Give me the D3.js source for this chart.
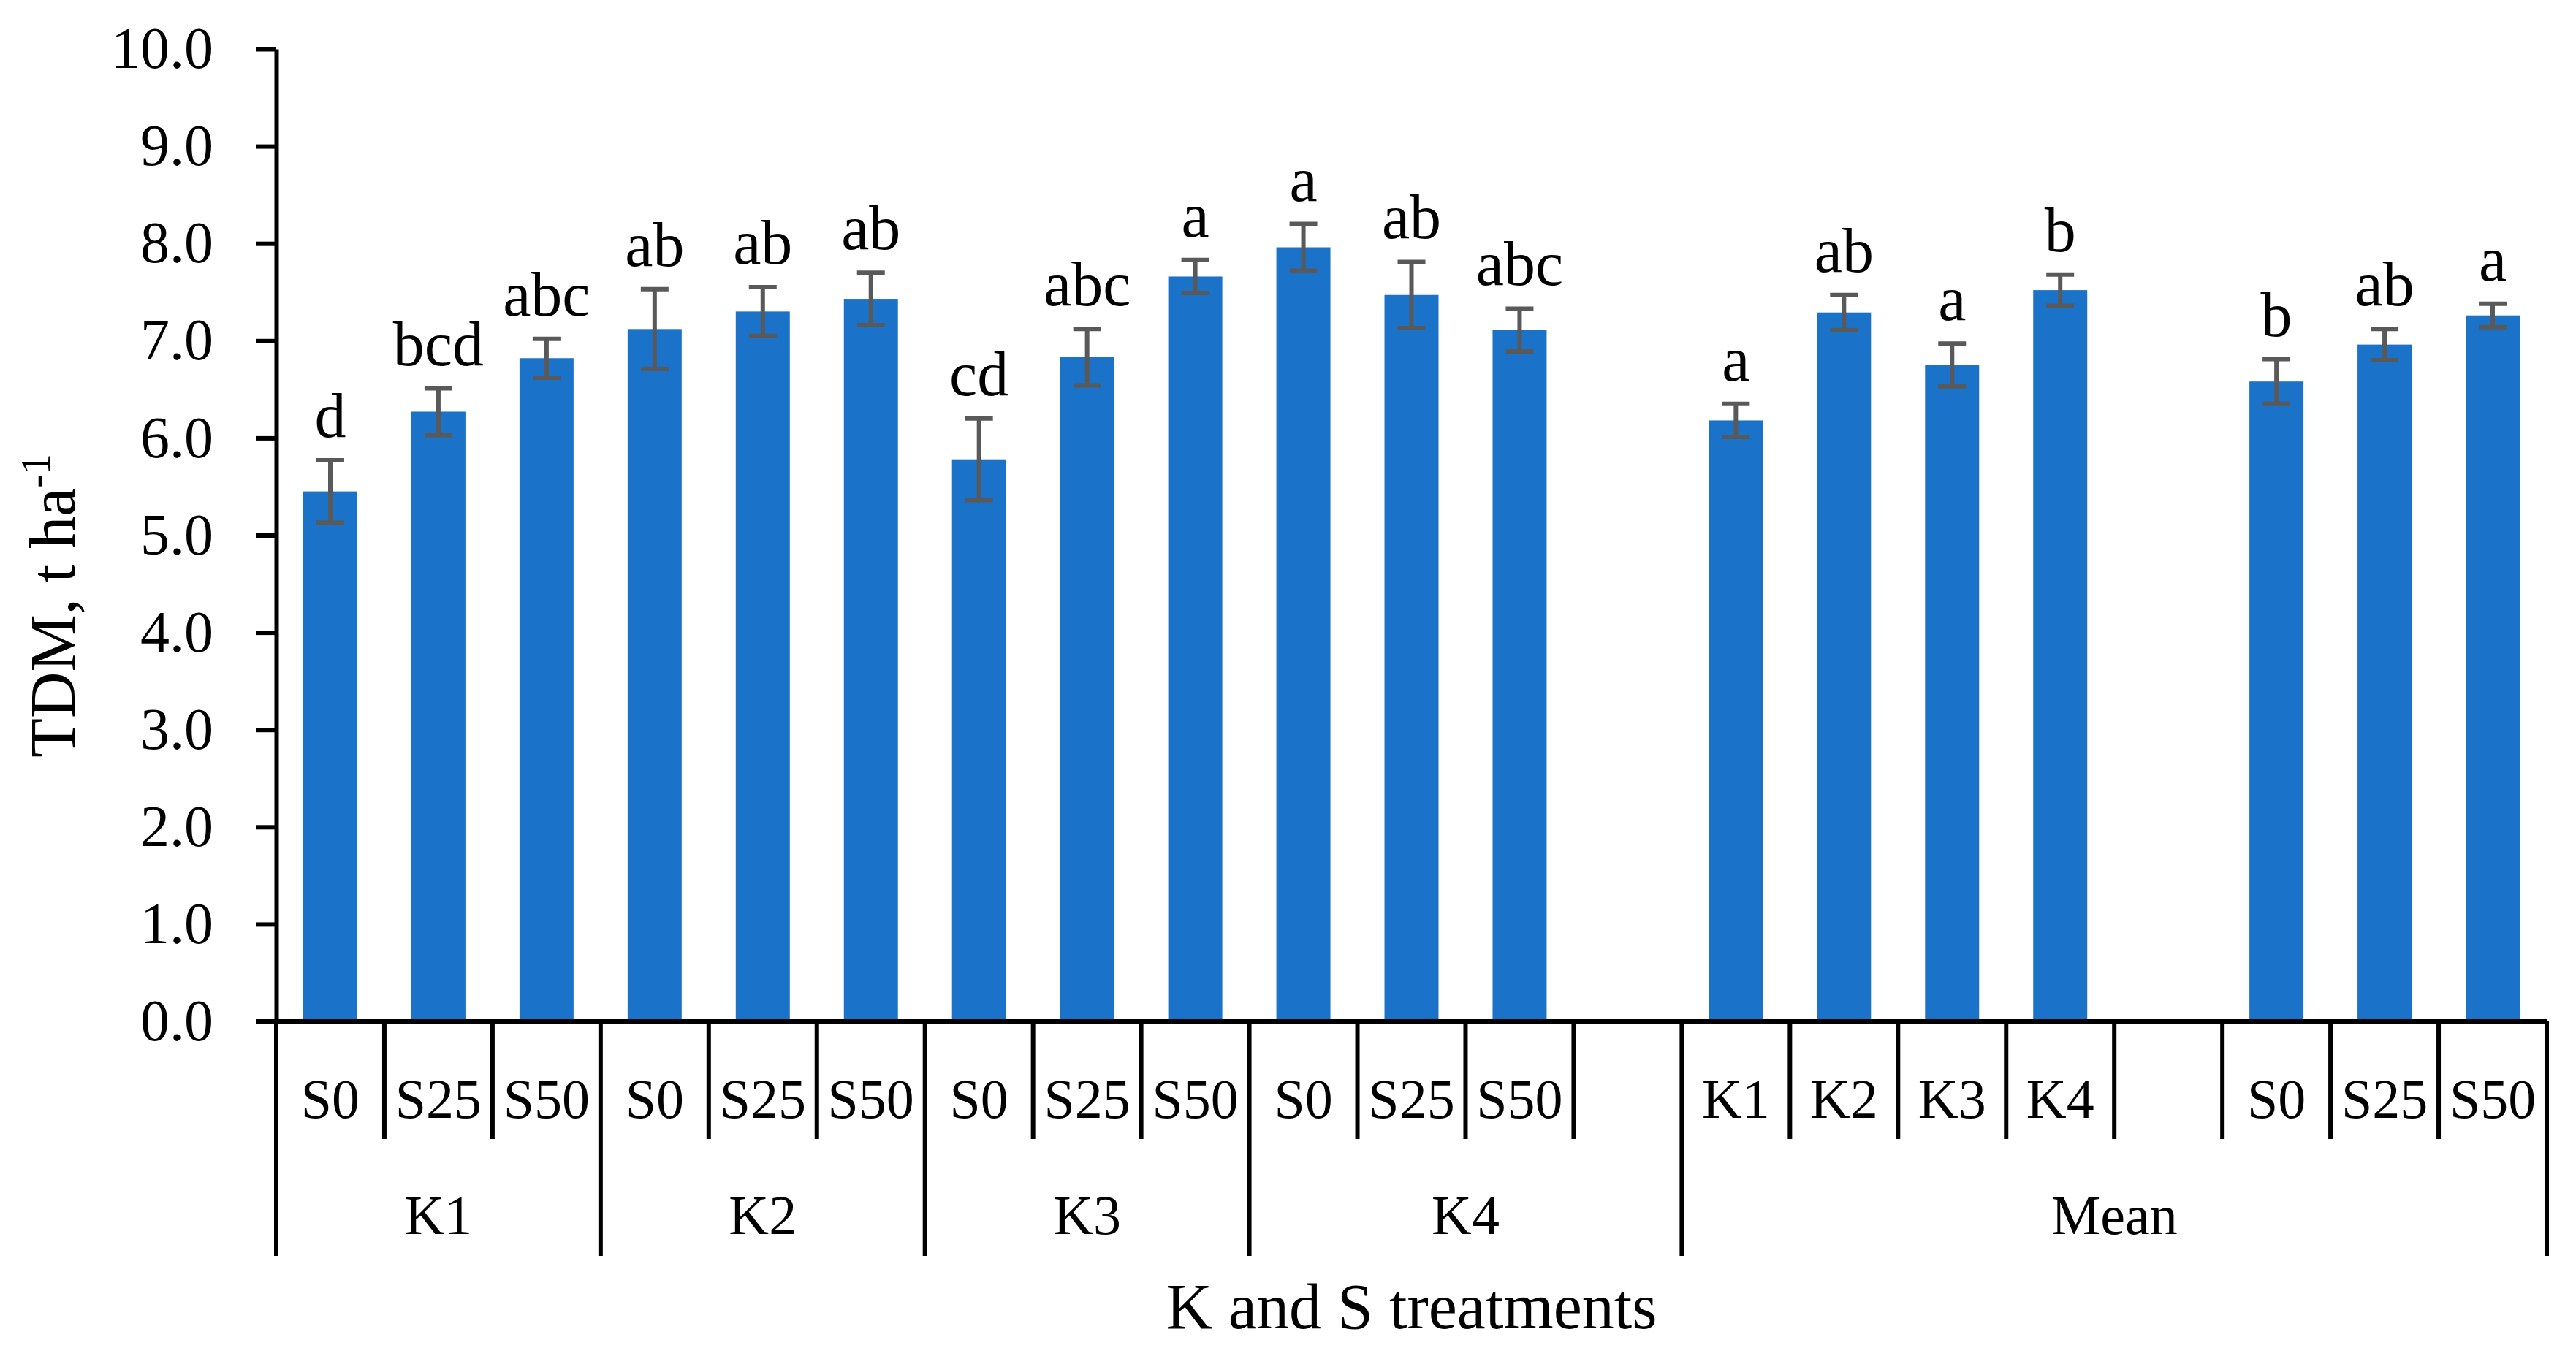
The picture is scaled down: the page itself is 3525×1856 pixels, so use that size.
<!DOCTYPE html>
<html>
<head>
<meta charset="utf-8">
<script src="https://cdn.jsdelivr.net/npm/d3@7"></script>
<style>
  html, body { margin: 0; padding: 0; background: #ffffff; }
  svg { display: block; }
  text { font-family: "Liberation Serif", "Times New Roman", serif; fill: #000; }
</style>
</head>
<body>
<script>
// ---------------- data ----------------
const kGroups = ["K1", "K2", "K3", "K4"];
const sLevels = ["S0", "S25", "S50"];
const meanKLabels = ["K1", "K2", "K3", "K4"];
const meanSLabels = ["S0", "S25", "S50"];

// TDM (t/ha) for K x S combinations, in order K1(S0,S25,S50), K2(...), K3(...), K4(...)
const tdmKS = [5.45, 6.27, 6.82, 7.12, 7.30, 7.43, 5.78, 6.83, 7.66, 7.96, 7.47, 7.11];
const errKS = [0.32, 0.24, 0.20, 0.41, 0.25, 0.27, 0.42, 0.29, 0.17, 0.24, 0.34, 0.22];
const letKS = ["d", "bcd", "abc", "ab", "ab", "ab", "cd", "abc", "a", "a", "ab", "abc"];

// Means of K levels
const tdmMeanK = [6.18, 7.29, 6.75, 7.52];
const errMeanK = [0.17, 0.18, 0.22, 0.16];
const letMeanK = ["a", "ab", "a", "b"];

// Means of S levels
const tdmMeanS = [6.58, 6.96, 7.26];
const errMeanS = [0.23, 0.16, 0.12];
const letMeanS = ["b", "ab", "a"];

const yTicks = [0, 1, 2, 3, 4, 5, 6, 7, 8, 9, 10];
const yTitle = "TDM, t ha";
const yTitleSup = "-1";
const xTitle = "K and S treatments";
const meanGroupLabel = "Mean";

// ---------------- build category slots ----------------
const slots = [];
kGroups.forEach((g, gi) => {
  sLevels.forEach((s, si) => {
    const i = gi * 3 + si;
    slots.push({ group: g, label: s, value: tdmKS[i], err: errKS[i], letter: letKS[i] });
  });
  if (gi === kGroups.length - 1) slots.push({ group: g, label: "", value: null });
});
meanKLabels.forEach((k, i) => slots.push({ group: meanGroupLabel, label: k, value: tdmMeanK[i], err: errMeanK[i], letter: letMeanK[i] }));
slots.push({ group: meanGroupLabel, label: "", value: null });
meanSLabels.forEach((s, i) => slots.push({ group: meanGroupLabel, label: s, value: tdmMeanS[i], err: errMeanS[i], letter: letMeanS[i] }));
slots.forEach((d, i) => d.key = "slot" + i);

// ---------------- layout ----------------
const W = 3525, H = 1856;
const mLeft = 378, mRight = 3485, mTop = 67, mBottom = 1398;
const shortTick = 161, longTick = 321;
const lineW = 6;

const svg = d3.select("body").append("svg").attr("width", W).attr("height", H);

const x = d3.scaleBand().domain(slots.map(d => d.key)).range([mLeft, mRight]).paddingInner(0).paddingOuter(0);
const y = d3.scaleLinear().domain([0, 10]).range([mBottom, mTop]);
const bw = x.bandwidth() * 0.5;

const blue = "#1a73c8";
const errColor = "#595959";

// bars
const barData = slots.filter(d => d.value !== null);
svg.append("g").selectAll("rect").data(barData).join("rect")
  .attr("x", d => x(d.key) + (x.bandwidth() - bw) / 2)
  .attr("width", bw)
  .attr("y", d => y(d.value))
  .attr("height", d => y(0) - y(d.value))
  .attr("fill", blue);

// error bars
const eg = svg.append("g").attr("stroke", errColor).attr("stroke-width", 6).attr("fill", "none");
const capHalf = 19;
barData.forEach(d => {
  const cx = x(d.key) + x.bandwidth() / 2;
  const y1 = y(d.value + d.err), y2 = y(d.value - d.err);
  eg.append("line").attr("x1", cx).attr("x2", cx).attr("y1", y1).attr("y2", y2);
  eg.append("line").attr("x1", cx - capHalf).attr("x2", cx + capHalf).attr("y1", y1).attr("y2", y1);
  eg.append("line").attr("x1", cx - capHalf).attr("x2", cx + capHalf).attr("y1", y2).attr("y2", y2);
});

// letters
svg.append("g").selectAll("text").data(barData).join("text")
  .attr("x", d => x(d.key) + x.bandwidth() / 2)
  .attr("y", d => y(d.value + d.err) - 32)
  .attr("text-anchor", "middle")
  .attr("font-size", 86)
  .text(d => d.letter);

// y axis
const yAxis = d3.axisLeft(y).tickValues(yTicks).tickFormat(d3.format(".1f")).tickSize(28).tickSizeOuter(0).tickPadding(58);
const gy = svg.append("g").attr("transform", `translate(${mLeft},0)`).call(yAxis);
gy.select(".domain").attr("stroke", "#000").attr("stroke-width", lineW);
gy.selectAll(".tick line").attr("stroke", "#000").attr("stroke-width", lineW);
gy.selectAll(".tick text").attr("font-size", 80).attr("font-family", "Liberation Serif").attr("fill", "#000");

// x axis line
svg.append("line").attr("x1", mLeft - 28).attr("x2", mRight).attr("y1", mBottom).attr("y2", mBottom)
  .attr("stroke", "#000").attr("stroke-width", lineW);

// slot boundary ticks
const tg = svg.append("g").attr("stroke", "#000").attr("stroke-width", lineW);
for (let i = 0; i <= slots.length; i++) {
  const bx = i < slots.length ? x(slots[i].key) : mRight;
  const isGroupEdge = i === 0 || i === slots.length || slots[i].group !== slots[i - 1].group;
  tg.append("line").attr("x1", bx).attr("x2", bx).attr("y1", mBottom).attr("y2", mBottom + (isGroupEdge ? longTick : shortTick));
}

// inner category labels
svg.append("g").selectAll("text").data(slots.filter(d => d.label !== "")).join("text")
  .attr("x", d => x(d.key) + x.bandwidth() / 2)
  .attr("y", mBottom + 132)
  .attr("text-anchor", "middle")
  .attr("font-size", 76)
  .text(d => d.label);

// group labels
const groupNames = Array.from(new Set(slots.map(d => d.group)));
groupNames.forEach(g => {
  const gs = slots.filter(d => d.group === g);
  const x0 = x(gs[0].key), x1 = x(gs[gs.length - 1].key) + x.bandwidth();
  svg.append("text").attr("x", (x0 + x1) / 2).attr("y", mBottom + 291)
    .attr("text-anchor", "middle").attr("font-size", 76).text(g);
});

// x title
svg.append("text").attr("x", (mLeft + mRight) / 2).attr("y", 1818)
  .attr("text-anchor", "middle").attr("font-size", 88).text(xTitle);

// y title
const yt = svg.append("text").attr("transform", `translate(102,829) rotate(-90)`)
  .attr("text-anchor", "middle").attr("font-size", 88);
yt.append("tspan").text(yTitle);
yt.append("tspan").attr("dy", -34).attr("font-size", 56).text(yTitleSup);
</script>
</body>
</html>
